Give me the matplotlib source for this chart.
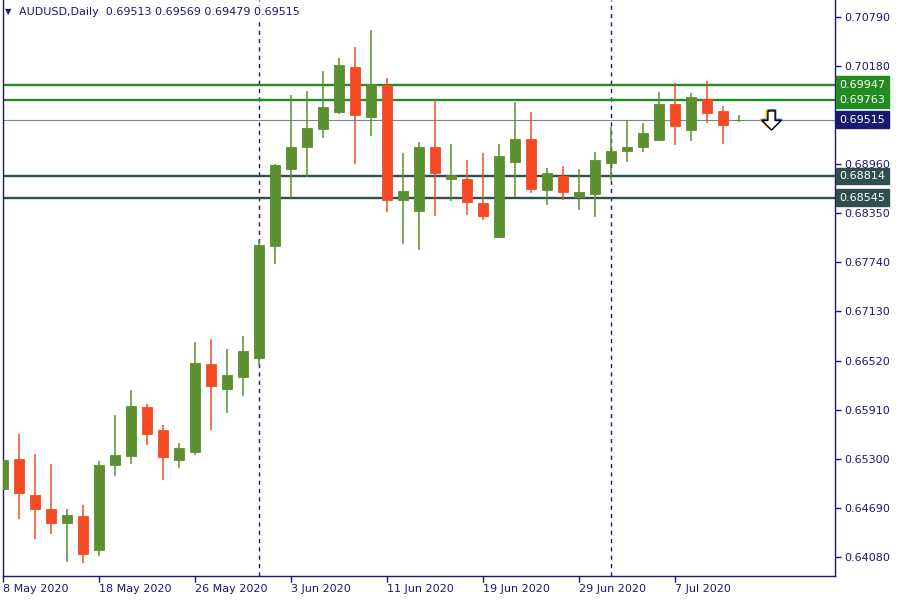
import matplotlib.pyplot as plt
import matplotlib.transforms as mtransforms
from matplotlib.path import Path
import numpy as np
import pandas as pd


# daily AUDUSD candles, 8 May 2020 .. 13 Jul 2020
opens = [0.64923, 0.65296, 0.64848, 0.64674, 0.64504, 0.64587, 0.64168, 0.65225,
         0.65337, 0.65942, 0.65656, 0.65287, 0.65387, 0.66477, 0.66170, 0.66319,
         0.66555, 0.67947, 0.68904, 0.69178, 0.69402, 0.69613, 0.70169, 0.69551,
         0.69945, 0.68519, 0.68382, 0.69174, 0.68780, 0.68776, 0.68478, 0.68059,
         0.68991, 0.69274, 0.68643, 0.68814, 0.68549, 0.68594, 0.68979, 0.69128,
         0.69178, 0.69261, 0.69709, 0.69389, 0.69767, 0.69622, 0.69513]
highs = [0.65495, 0.65607, 0.65358, 0.65234, 0.64674, 0.64724, 0.65271, 0.65843,
         0.66154, 0.65980, 0.65719, 0.65495, 0.66750, 0.66788, 0.66663, 0.66825,
         0.68018, 0.68963, 0.69820, 0.69870, 0.70119, 0.70280, 0.70417, 0.70628,
         0.70032, 0.69100, 0.69236, 0.69758, 0.69211, 0.69013, 0.69100, 0.69211,
         0.69733, 0.69609, 0.68913, 0.68938, 0.68901, 0.69112, 0.69423, 0.69506,
         0.69472, 0.69858, 0.69966, 0.69842, 0.69991, 0.69684, 0.69569]
lows = [0.64911, 0.64554, 0.64305, 0.64367, 0.64019, 0.64007, 0.64094, 0.65088,
        0.65238, 0.65474, 0.65039, 0.65188, 0.65349, 0.65656, 0.65871, 0.66083,
        0.66464, 0.67724, 0.68544, 0.68805, 0.69290, 0.69588, 0.68967, 0.69315,
        0.68370, 0.67972, 0.67898, 0.68320, 0.68507, 0.68333, 0.68270, 0.68043,
        0.68549, 0.68606, 0.68457, 0.68519, 0.68395, 0.68308, 0.68764, 0.68991,
        0.69116, 0.69252, 0.69203, 0.69252, 0.69476, 0.69215, 0.69479]
closes = [0.65283, 0.64877, 0.64678, 0.64504, 0.64600, 0.64119, 0.65221, 0.65346,
          0.65955, 0.65610, 0.65325, 0.65433, 0.66489, 0.66207, 0.66340, 0.66638,
          0.67956, 0.68950, 0.69174, 0.69410, 0.69671, 0.70193, 0.69576, 0.69957,
          0.68519, 0.68627, 0.69174, 0.68855, 0.68826, 0.68494, 0.68320, 0.69062,
          0.69274, 0.68656, 0.68851, 0.68618, 0.68615, 0.69013, 0.69124, 0.69170,
          0.69348, 0.69709, 0.69439, 0.69796, 0.69600, 0.69451, 0.69515]

resistance = [0.69947, 0.69763]
support = [0.68814, 0.68545]

# 0.69570 sits under the bid tag, so it is left out
price_ticks = [0.64080, 0.64690, 0.65300, 0.65910, 0.66520, 0.67130,
               0.67740, 0.68350, 0.68960, 0.70180, 0.70790]
date_ticks = ['2020-05-08', '2020-05-18', '2020-05-26', '2020-06-03',
              '2020-06-11', '2020-06-19', '2020-06-29', '2020-07-07']
date_labels = ['8 May 2020', '18 May 2020', '26 May 2020', '3 Jun 2020',
               '11 Jun 2020', '19 Jun 2020', '29 Jun 2020', '7 Jul 2020']

navy = '#191970'
bull = '#5b8f2f'
bear = '#f24b25'

dates = pd.bdate_range('2020-05-08', periods=len(opens))
o = np.array(opens)
h = np.array(highs)
l = np.array(lows)
c = np.array(closes)
x = np.arange(len(o))
colors = np.where(c >= o, bull, bear)

fig = plt.figure(figsize=(9, 6), dpi=100)
ax = fig.add_axes([3 / 900, 24 / 600, 832 / 900, 576 / 600])

# month separators
month_start = [i for i in range(1, len(dates)) if dates[i].month != dates[i - 1].month]
for i in month_start:
    ax.axvline(i, color=navy, lw=1, ls=(0, (3, 3)), zorder=1)

# levels
for lv in resistance:
    ax.axhline(lv, color='#228b22', lw=1.7, zorder=1.2)
for lv in support:
    ax.axhline(lv, color='#2f4f4f', lw=1.7, zorder=1.2)
ax.axhline(c[-1], color='#778899', lw=0.8, zorder=1.2)

# candles
ax.vlines(x, l, h, colors=colors, lw=1.1, zorder=2)
ax.bar(x, np.abs(c - o), bottom=np.minimum(o, c), width=0.68,
       color=colors, edgecolor=colors, linewidth=0.6, zorder=3)

# sell arrow next to last candle
arrow = Path([(-0.3, 0.8), (0.3, 0.8), (0.3, 0.0), (0.8, 0.0), (0.0, -0.8),
              (-0.8, 0.0), (-0.3, 0.0), (-0.3, 0.8)])
ax_x = x[-1] + 2
ax.scatter([ax_x], [c[-1]], marker=arrow, s=190, facecolor='none', edgecolor='#f5a623',
           linewidth=1.2, zorder=4,
           transform=mtransforms.offset_copy(ax.transData, fig=fig, x=-1, y=0, units='dots'))
ax.scatter([ax_x], [c[-1]], marker=arrow, s=190, facecolor='none', edgecolor='#1e6fd0',
           linewidth=1.2, zorder=4,
           transform=mtransforms.offset_copy(ax.transData, fig=fig, x=1, y=0, units='dots'))
ax.scatter([ax_x], [c[-1]], marker=arrow, s=190, facecolor='white', edgecolor='black',
           linewidth=1.0, zorder=5)

ax.set_xlim(0, 52)
ax.set_ylim(0.63842, 0.71001)

ax.yaxis.tick_right()
ax.set_yticks(price_ticks)
ax.set_yticklabels([f'{p:.5f}' for p in price_ticks])
ax.set_xticks(dates.get_indexer(pd.to_datetime(date_ticks)))
ax.set_xticklabels(date_labels, ha='left')
ax.tick_params(axis='both', colors=navy, labelsize=8, length=4, width=1, direction='out')
ax.tick_params(axis='y', pad=3)
ax.tick_params(axis='x', pad=2)

for side in ['left', 'right', 'bottom']:
    ax.spines[side].set_color(navy)
    ax.spines[side].set_linewidth(1)
ax.spines['top'].set_visible(False)

# price tags on the axis
tag_tr = mtransforms.blended_transform_factory(ax.transAxes, ax.transData)
tags = [(lv, '#228b22') for lv in resistance] + [(c[-1], navy)] + [(lv, '#2f4f4f') for lv in support]
for lv, col in tags:
    ax.text(1.0055, lv, f'{lv:.5f}', transform=tag_tr, ha='left', va='center',
            fontsize=8, color='white', clip_on=False, zorder=6,
            bbox=dict(boxstyle='square,pad=0.3', facecolor=col, edgecolor=col))

# header
fig.text(5 / 900, 1 - 12 / 600, '\u25bc', fontsize=6, color=navy, va='center', ha='left')
fig.text(19 / 900, 1 - 12 / 600,
         f'AUDUSD,Daily  {o[-1]:.5f} {h[-1]:.5f} {l[-1]:.5f} {c[-1]:.5f}',
         fontsize=8, color=navy, va='center', ha='left',
         bbox=dict(boxstyle='square,pad=0.1', facecolor='white', edgecolor='none'))

fig.savefig('out.png', dpi=100, facecolor='white')
